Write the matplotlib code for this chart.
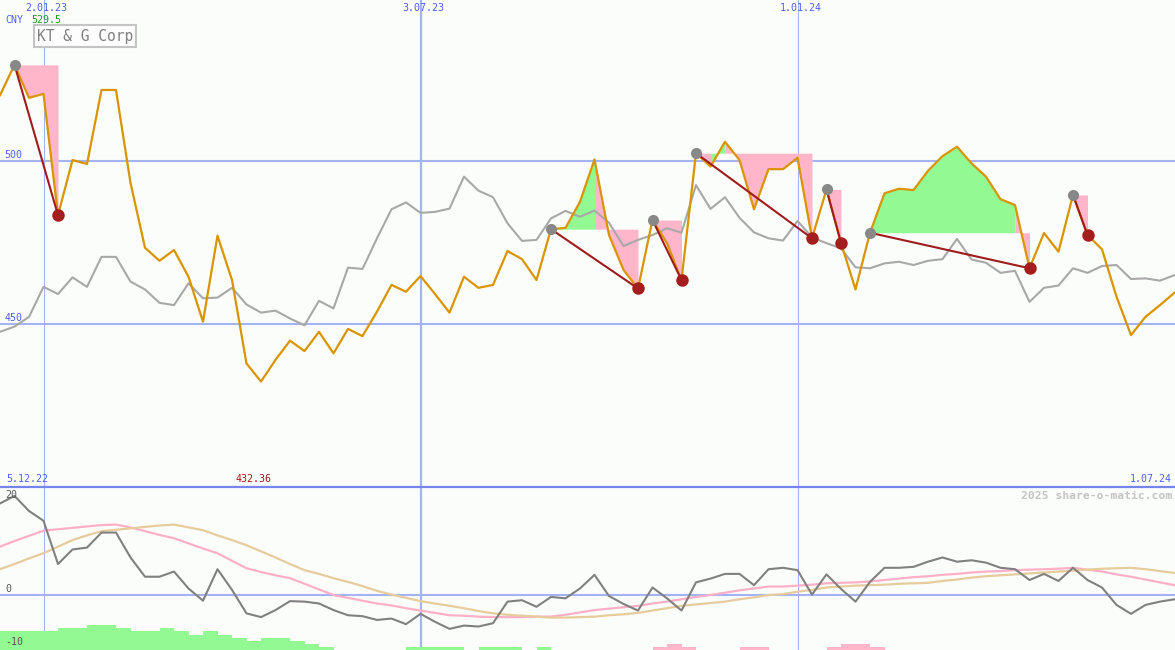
import matplotlib
matplotlib.use('Agg')
import matplotlib.pyplot as plt
import numpy as np

# ---------------- data ----------------
close = [520.2, 529.5, 519.4, 520.6, 483.4, 500.3, 499.1, 521.8, 521.8, 493.3,
         473.4, 469.4, 472.7, 464.5, 450.7, 477.1, 463.5, 437.9, 432.36, 439.0,
         444.9, 441.7, 447.6, 441.0, 448.5, 446.3, 453.8, 462.0, 459.9, 464.7,
         459.2, 453.5, 464.5, 461.1, 462.0, 472.4, 469.9, 463.5, 479.1, 479.5,
         487.5, 500.5, 477.3, 466.6, 460.9, 481.9, 474.8, 463.5, 502.4, 498.3,
         505.9, 500.3, 485.2, 497.5, 497.5, 501.0, 476.3, 491.3, 474.9, 460.6,
         478.0, 490.1, 491.5, 491.1, 497.0, 501.5, 504.4, 499.3, 495.2, 488.3,
         486.5, 467.1, 477.9, 472.2, 489.6, 477.3, 472.9, 458.4, 446.6, 452.2,
         455.8, 459.6]

compare = [447.6, 449.2, 452.2, 461.4, 459.2, 464.3, 461.4, 470.6, 470.6, 463.0,
           460.6, 456.5, 455.8, 462.5, 457.9, 458.1, 461.1, 456.0, 453.5, 454.1,
           451.7, 449.6, 457.1, 454.8, 467.3, 466.9, 476.3, 485.2, 487.3, 484.1,
           484.4, 485.4, 495.2, 490.9, 488.9, 480.9, 475.5, 475.8, 482.4, 484.7,
           482.9, 484.8, 481.1, 473.9, 475.8, 477.3, 479.4, 478.0, 492.6, 485.3,
           488.9, 482.6, 478.1, 476.3, 475.6, 481.6, 476.6, 474.8, 473.2, 467.4,
           467.1, 468.6, 469.1, 468.1, 469.4, 469.9, 476.1, 469.8, 468.8, 465.7,
           466.3, 456.8, 461.1, 461.8, 467.1, 465.7, 467.8, 468.1, 463.8, 464.0,
           463.3, 465.0]

peaks = [1, 38, 45, 48, 57, 60, 74]
troughs = [4, 44, 47, 56, 58, 71, 75]

momentum = [19.5, 21.1, 17.9, 15.8, 6.6, 9.7, 10.1, 13.3, 13.3, 8.0,
            3.9, 3.9, 5.0, 1.4, -1.2, 5.5, 1.1, -3.9, -4.7, -3.2,
            -1.3, -1.4, -1.8, -3.2, -4.3, -4.5, -5.3, -5.0, -6.2, -4.0,
            -5.7, -7.2, -6.5, -6.7, -6.0, -1.4, -1.1, -2.5, -0.4, -0.7,
            1.4, 4.3, -0.2, -1.9, -3.3, 1.6, -0.7, -3.3, 2.7, 3.5,
            4.5, 4.5, 2.1, 5.5, 5.8, 5.3, 0.1, 4.4, 1.3, -1.4,
            2.8, 5.8, 5.8, 6.0, 7.1, 8.0, 7.1, 7.4, 6.9, 5.8,
            5.5, 3.2, 4.5, 3.0, 5.8, 3.2, 1.6, -2.1, -4.0, -2.1,
            -1.4, -0.9]

ma_fast = [10.3, 11.5, 12.6, 13.7, 14.0, 14.3, 14.6, 14.9, 15.0, 14.4,
           13.6, 12.8, 12.1, 11.0, 9.9, 8.9, 7.3, 5.7, 4.9, 4.2,
           3.6, 2.4, 1.2, 0.0, -0.6, -1.2, -1.8, -2.2, -2.8, -3.3,
           -3.8, -4.3, -4.4, -4.6, -4.7, -4.7, -4.7, -4.6, -4.6, -4.2,
           -3.7, -3.2, -2.9, -2.6, -2.3, -1.8, -1.4, -0.9, -0.4, 0.0,
           0.5, 1.0, 1.4, 1.8, 1.8, 2.0, 2.2, 2.5, 2.6, 2.7,
           2.9, 3.2, 3.5, 3.8, 4.0, 4.3, 4.5, 4.8, 5.0, 5.1,
           5.3, 5.4, 5.5, 5.6, 5.8, 5.4, 5.0, 4.4, 3.9, 3.3,
           2.7, 2.1]

ma_slow = [5.5, 6.6, 7.8, 8.9, 10.3, 11.7, 12.7, 13.6, 13.9, 14.2,
           14.5, 14.8, 15.0, 14.4, 13.8, 12.7, 11.7, 10.6, 9.3, 8.0,
           6.6, 5.3, 4.5, 3.6, 2.8, 1.9, 0.9, 0.1, -0.6, -1.3,
           -1.8, -2.3, -2.8, -3.4, -3.9, -4.2, -4.4, -4.6, -4.8, -4.8,
           -4.7, -4.6, -4.3, -4.1, -3.8, -3.3, -2.8, -2.3, -2.0, -1.7,
           -1.4, -0.9, -0.5, 0.0, 0.2, 0.7, 1.1, 1.6, 1.8, 2.0,
           2.1, 2.2, 2.4, 2.5, 2.6, 3.0, 3.3, 3.7, 4.0, 4.2,
           4.4, 4.6, 4.8, 5.0, 5.2, 5.4, 5.6, 5.7, 5.8, 5.5,
           5.1, 4.7]

hist = [4.0, 4.0, 4.0, 4.0, 4.7, 4.7, 5.3, 5.3, 4.7, 4.0,
        4.0, 4.7, 4.0, 3.2, 4.0, 3.2, 2.6, 1.9, 2.6, 2.6,
        1.9, 1.3, 0.6, 0, 0, 0, 0, 0, 0.6, 0.6,
        0.6, 0.6, 0, 0.6, 0.6, 0.6, 0, 0.6, 0, 0,
        0, 0, 0, 0, 0, -0.6, -1.3, -0.6, 0, 0,
        0, -0.6, -0.6, 0, 0, 0, 0, -0.6, -1.3, -1.3,
        -0.6, 0, 0, 0, 0, 0, 0, 0, 0, 0,
        0, 0, 0, 0, 0, 0, 0, 0, 0, 0,
        0, 0]

date_ticks = [3, 29, 55]
date_labels = ['2.01.23', '3.07.23', '1.01.24']
date_widths = [0.8, 1.6, 0.8]
price_ticks = [500, 450]
osc_ticks = [20, 0, -10]
start_label = '5.12.22'
end_label = '1.07.24'
name = 'KT & G Corp'
currency = 'CNY'

# ---------------- figure ----------------
W, H = 1175, 650
split = 487
bg = '#fbfdfb'
grid_c = '#a3b3f3'
mono = 'DejaVu Sans Mono'

fig = plt.figure(figsize=(W / 100, H / 100), dpi=100)
fig.patch.set_facecolor(bg)
ax = fig.add_axes([0, 1 - split / H, 1, split / H])
ax2 = fig.add_axes([0, 0, 1, (H - split) / H])

x = np.arange(len(close))
close_a = np.array(close)
for a in (ax, ax2):
    a.set_facecolor(bg)
    a.set_xticks([])
    a.set_yticks([])
    for s in a.spines.values():
        s.set_visible(False)
    a.set_xlim(0, W / 14.5)

ax.set_ylim(400, 549.4)
ax2.set_ylim(-11.7, 23.0)
ax2.spines['top'].set_visible(True)
ax2.spines['top'].set_color('#7585ec')
ax2.spines['top'].set_linewidth(1.6)

# grid
for t, lw in zip(date_ticks, date_widths):
    ax.axvline(t, color=grid_c, lw=lw, zorder=0)
    ax2.axvline(t, color=grid_c, lw=lw, zorder=0)
for p in price_ticks:
    ax.axhline(p, color=grid_c, lw=1.5, zorder=0)
ax2.axhline(0, color=grid_c, lw=1.5, zorder=0)

# fills between peak level and price, grouped into runs of one colour
pink = '#ffb6cb'
green = '#93f993'
for p, t in zip(peaks, troughs):
    level = close[p]
    cols = [green if close[k + 1] >= level else pink for k in range(p, t)]
    start = p
    for j in range(1, len(cols) + 1):
        if j == len(cols) or cols[j] != cols[j - 1]:
            end = p + j
            ax.fill_between(x[start:end + 1], close_a[start:end + 1], level,
                            color=cols[j - 1], lw=0, zorder=1)
            start = end

ax.plot(x, compare, color='#a8a8a8', lw=1.5, zorder=2)
ax.plot(x, close, color='#d99400', lw=1.6, zorder=3)
for p, t in zip(peaks, troughs):
    ax.plot([p, t], [close[p], close[t]], color='#a01c1c', lw=1.5, zorder=4)
ax.plot(peaks, [close[i] for i in peaks], 'o', color='#888888', ms=8,
        mec='none', zorder=5)
ax.plot(troughs, [close[i] for i in troughs], 'o', color='#a51e1e', ms=9,
        mec='none', zorder=5)

# bottom panel
ymin = ax2.get_ylim()[0]
h = np.array(hist)
ax2.bar(x, np.abs(h), bottom=ymin, width=1, align='edge',
        color=[green if v > 0 else pink for v in h], lw=0, zorder=1)
ax2.plot(x, ma_fast, color='#ffb0c8', lw=1.6, zorder=2)
ax2.plot(x, ma_slow, color='#e6cc9c', lw=1.6, zorder=2)
ax2.plot(x, momentum, color='#808080', lw=1.5, zorder=3)


def px(xp, yp):
    return xp / W, 1 - yp / H


fs = 7.2
blue = '#4f5fef'
for t, lab in zip(date_ticks, date_labels):
    ax.text(t + 0.2, 1 - 8 / split, lab, transform=ax.get_xaxis_transform(),
            ha='center', va='center', fontsize=fs, family=mono, color=blue)
fig.text(*px(5, 20), currency, ha='left', va='center', fontsize=fs,
         family=mono, color=blue)
fig.text(*px(31, 20), f'{max(close):.1f}', ha='left', va='center', fontsize=fs,
         family=mono, color='#229922')
fig.text(*px(37, 36), name, ha='left', va='center', fontsize=10.5,
         family=mono, color='#808080',
         bbox=dict(boxstyle='square,pad=0.22', fc='#fdfdfd', ec='#c4c4c4',
                   lw=1.5))
for p in price_ticks:
    ax.text(0.004, p + 1.8, str(p), transform=ax.get_yaxis_transform(),
            ha='left', va='center', fontsize=fs, family=mono, color=blue)
fig.text(*px(6, 479), start_label, ha='left', va='center', fontsize=fs,
         family=mono, color=blue)
fig.text(*px(236, 479), f'{min(close):.2f}', ha='left', va='center',
         fontsize=fs, family=mono, color='#a01818')
fig.text(*px(1172, 479), end_label, ha='right', va='center', fontsize=fs,
         family=mono, color=blue)
fig.text(*px(1172, 496), '2025 share-o-matic.com', ha='right', va='center',
         fontsize=8.2, family=mono, color='#c4c4c4', fontweight='bold')
for v, yp in zip(osc_ticks, [495, 589, 642]):
    fig.text(*px(5, yp), str(v), ha='left', va='center', fontsize=fs,
             family=mono, color='#555555')

fig.savefig('out.png', dpi=100, facecolor=bg)
